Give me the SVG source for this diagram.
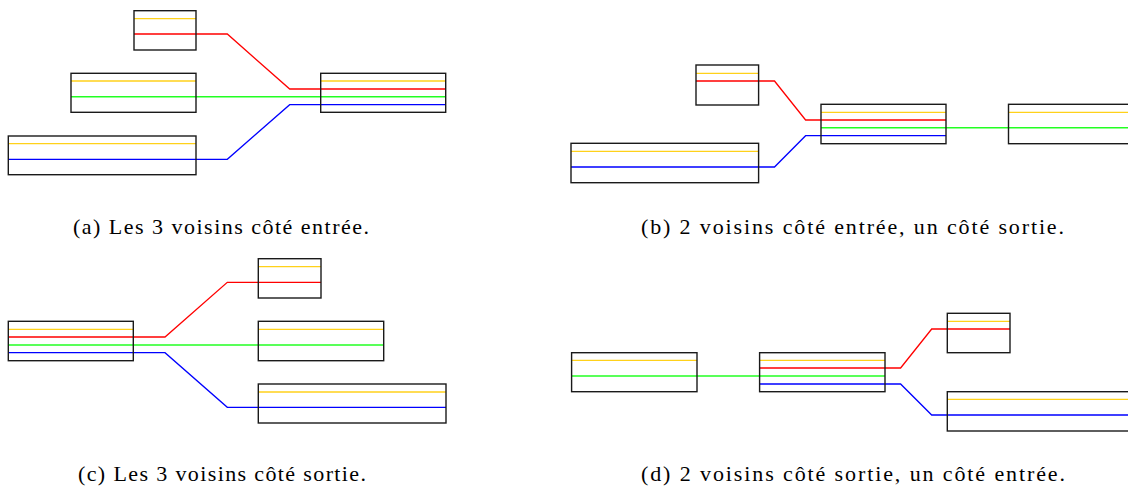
<svg xmlns="http://www.w3.org/2000/svg" width="1128" height="488" viewBox="0 0 1128 488">
  <style>
    .box { fill: none; stroke: #1a1a1a; stroke-width: 1.4; }
    .y { stroke: #ffd11a; stroke-width: 1.3; fill: none; }
    .r { stroke: #ff0000; stroke-width: 1.3; fill: none; stroke-linejoin: miter; }
    .g { stroke: #22ff22; stroke-width: 1.5; fill: none; }
    .b { stroke: #0000ff; stroke-width: 1.3; fill: none; }
    .cap { font-family: "Liberation Serif", "DejaVu Serif", serif; font-size: 22px; fill: #000; }
  </style>
  <rect width="1128" height="488" fill="#ffffff"/>

  <!-- (a) three neighbours on the input side -->
  <g id="panel-a">
    <g id="a-connectors">
      <path class="r" d="M134,34 H227.3 L289.7,89 H445.7"/>
      <path class="g" d="M71,96.7 H445.7"/>
      <path class="b" d="M8.3,159.3 H227.3 L289.7,104.7 H445.7"/>
    </g>
    <g id="a-in-top"><line class="y" x1="134" y1="18.7" x2="196" y2="18.7"/><rect class="box" x="134" y="10.7" width="62" height="39.3"/></g>
    <g id="a-in-mid"><line class="y" x1="71" y1="81" x2="196" y2="81"/><rect class="box" x="71" y="73.3" width="125" height="39"/></g>
    <g id="a-in-bot"><line class="y" x1="8.3" y1="143.7" x2="196" y2="143.7"/><rect class="box" x="8.3" y="136" width="187.7" height="38.7"/></g>
    <g id="a-center"><line class="y" x1="320.7" y1="81" x2="445.7" y2="81"/><rect class="box" x="320.7" y="73.3" width="125" height="39"/></g>
    <text class="cap" x="73" y="234" textLength="296" lengthAdjust="spacing">(a) Les 3 voisins côté entrée.</text>
  </g>

  <!-- (b) two neighbours on the input side, one on the output side -->
  <g id="panel-b">
    <g id="b-connectors">
      <path class="r" d="M696,81 H774.5 L805.6,120 H946"/>
      <path class="b" d="M571,167 H774.5 L805.6,135.7 H946"/>
      <path class="g" d="M821,127.7 H1134"/>
    </g>
    <g id="b-in-top"><line class="y" x1="696" y1="73.3" x2="758.6" y2="73.3"/><rect class="box" x="696" y="65" width="62.6" height="40"/></g>
    <g id="b-in-bot"><line class="y" x1="571" y1="151.3" x2="758.6" y2="151.3"/><rect class="box" x="571" y="143.3" width="187.6" height="39.4"/></g>
    <g id="b-center"><line class="y" x1="821" y1="112.3" x2="946" y2="112.3"/><rect class="box" x="821" y="104.3" width="125" height="39.4"/></g>
    <g id="b-out"><line class="y" x1="1008.5" y1="112.3" x2="1134" y2="112.3"/><rect class="box" x="1008.5" y="104.3" width="126" height="39.4"/></g>
    <text class="cap" x="641" y="234" textLength="423" lengthAdjust="spacing">(b) 2 voisins côté entrée, un côté sortie.</text>
  </g>

  <!-- (c) three neighbours on the output side -->
  <g id="panel-c">
    <g id="c-connectors">
      <path class="r" d="M8.3,337 H165 L227.3,282.3 H321"/>
      <path class="g" d="M8.3,345 H383.7"/>
      <path class="b" d="M8.3,352.7 H165 L227.3,407.3 H446"/>
    </g>
    <g id="c-center"><line class="y" x1="8.3" y1="329.3" x2="133.3" y2="329.3"/><rect class="box" x="8.3" y="321.3" width="125" height="39.4"/></g>
    <g id="c-out-top"><line class="y" x1="258.3" y1="266.7" x2="321" y2="266.7"/><rect class="box" x="258.3" y="258.7" width="62.7" height="39.3"/></g>
    <g id="c-out-mid"><line class="y" x1="258.3" y1="329.3" x2="383.7" y2="329.3"/><rect class="box" x="258.3" y="321.3" width="125.4" height="39.4"/></g>
    <g id="c-out-bot"><line class="y" x1="258.3" y1="392" x2="446" y2="392"/><rect class="box" x="258.3" y="384" width="187.7" height="39"/></g>
    <text class="cap" x="78" y="481" textLength="288" lengthAdjust="spacing">(c) Les 3 voisins côté sortie.</text>
  </g>

  <!-- (d) two neighbours on the output side, one on the input side -->
  <g id="panel-d">
    <g id="d-connectors">
      <path class="r" d="M759.6,368 H900.6 L931.7,329 H1010"/>
      <path class="g" d="M571.6,376 H885"/>
      <path class="b" d="M759.6,384 H900.6 L931.7,415 H1134"/>
    </g>
    <g id="d-in"><line class="y" x1="571.6" y1="360.3" x2="697" y2="360.3"/><rect class="box" x="571.6" y="352.7" width="125.4" height="39"/></g>
    <g id="d-center"><line class="y" x1="759.6" y1="360.3" x2="885" y2="360.3"/><rect class="box" x="759.6" y="352.7" width="125.4" height="39"/></g>
    <g id="d-out-top"><line class="y" x1="947.3" y1="321.3" x2="1010" y2="321.3"/><rect class="box" x="947.3" y="313.3" width="62.7" height="39.4"/></g>
    <g id="d-out-bot"><line class="y" x1="947.3" y1="399.3" x2="1134" y2="399.3"/><rect class="box" x="947.3" y="391.7" width="187" height="39.3"/></g>
    <text class="cap" x="641" y="481" textLength="424" lengthAdjust="spacing">(d) 2 voisins côté sortie, un côté entrée.</text>
  </g>
</svg>
